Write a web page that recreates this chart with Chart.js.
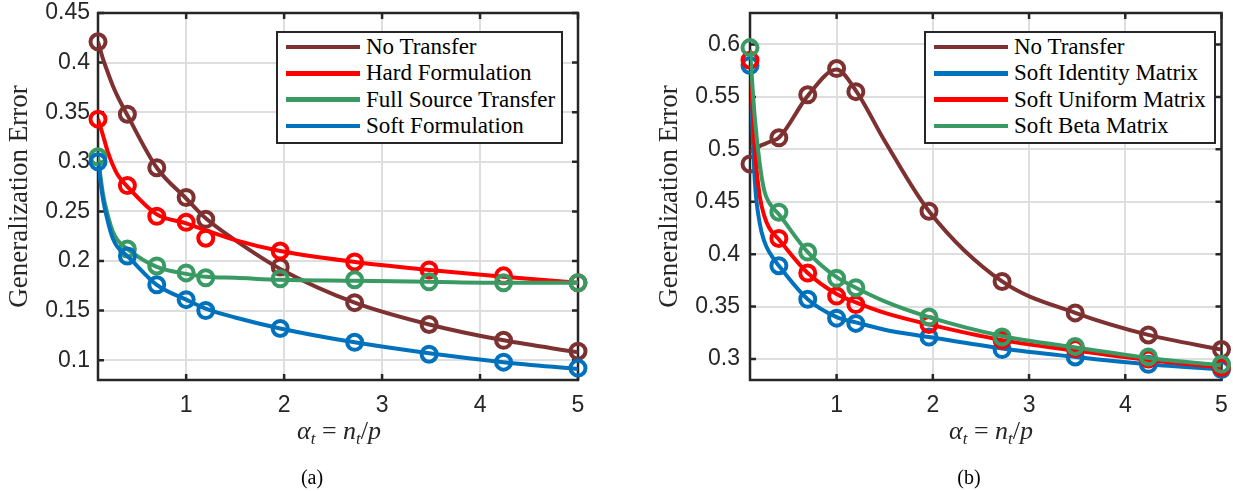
<!DOCTYPE html>
<html>
<head>
<meta charset="utf-8">
<script src="https://cdn.jsdelivr.net/npm/chart.js@4"></script>
<style>
  html, body { margin:0; padding:0; background:#fff; }
  #wrap { position:relative; width:1233px; height:491px; overflow:hidden; }
  canvas { position:absolute; top:0; }
  .xt { position:absolute; font-family:"Liberation Serif", "Times New Roman", serif; font-size:26px; color:#262626; transform:translateX(-50%); white-space:nowrap; }
  .xt i { font-style:italic; }
  .xt sub { font-size:17px; vertical-align:-5px; line-height:0; }
  .cap { position:absolute; font-family:"Liberation Serif", "Times New Roman", serif; font-size:20px; color:#000; transform:translateX(-50%); }
  .legend { position:absolute; border:2px solid #262626; background:#fff; box-sizing:border-box; padding:1px 0 0 8px; }
  .legend-item { height:26.3px; display:flex; align-items:center; font-family:"Liberation Serif", "Times New Roman", serif; font-size:23px; color:#000; white-space:nowrap; }
  .legend-line { display:inline-block; width:74px; height:4.5px; margin-right:6px; }
</style>
</head>
<body>
<div id="wrap">
  <canvas id="chart-a" width="620" height="491" style="left:0"></canvas>
  <canvas id="chart-b" width="593" height="491" style="left:640px"></canvas>
  <div class="xt" style="left:339px; top:416px"><i>α<sub>t</sub></i> = <i>n<sub>t</sub></i>/<i>p</i></div>
  <div class="xt" style="left:991px; top:416px"><i>α<sub>t</sub></i> = <i>n<sub>t</sub></i>/<i>p</i></div>
  <div class="cap" style="left:312px; top:466px">(a)</div>
  <div class="cap" style="left:969px; top:466px">(b)</div>
  <div class="legend" id="legend-a" style="left:276px; top:31px; width:287px; height:113px"></div>
  <div class="legend" id="legend-b" style="left:924px; top:31px; width:292px; height:113px"></div>
</div>
<script>
// ── DATA ──
// x positions of the simulation markers and of the points
var markX = [0.1, 0.4, 0.7, 1.0, 1.2, 1.96, 2.72, 3.48, 4.24, 5.0];
var curveX = [0.1, 0.15, 0.2, 0.25, 0.3, 0.4, 0.7, 1.0, 1.2, 1.5, 1.96, 2.72, 3.48, 4.24, 5.0];

var xTicks = [1, 2, 3, 4, 5];
var yTicksA = [0.1, 0.15, 0.2, 0.25, 0.3, 0.35, 0.4, 0.45];
var yTicksB = [0.3, 0.35, 0.4, 0.45, 0.5, 0.55, 0.6];

// (a)
var labelsA = ['No Transfer', 'Hard Formulation', 'Full Source Transfer', 'Soft Formulation'];
var curveA_noTransfer = [0.421, 0.404, 0.390, 0.377, 0.366, 0.347, 0.294, 0.263, 0.243, 0.221, 0.192, 0.158, 0.136, 0.120, 0.108];
var curveA_hard       = [0.343, 0.327, 0.310, 0.297, 0.287, 0.275, 0.247, 0.238, 0.231, 0.221, 0.210, 0.199, 0.191, 0.184, 0.178];
var curveA_full       = [0.305, 0.268, 0.246, 0.230, 0.221, 0.212, 0.194, 0.187, 0.184, 0.183, 0.181, 0.180, 0.179, 0.178, 0.178];
var curveA_soft       = [0.299, 0.263, 0.240, 0.223, 0.214, 0.205, 0.176, 0.161, 0.152, 0.143, 0.132, 0.118, 0.107, 0.098, 0.091];
var markA_noTransfer = [0.421, 0.348, 0.294, 0.264, 0.242, 0.194, 0.158, 0.136, 0.120, 0.109];
var markA_hard       = [0.343, 0.276, 0.245, 0.239, 0.223, 0.210, 0.199, 0.191, 0.185, 0.178];
var markA_full       = [0.305, 0.212, 0.195, 0.188, 0.183, 0.182, 0.181, 0.179, 0.178, 0.178];
var markA_soft       = [0.300, 0.205, 0.176, 0.161, 0.150, 0.132, 0.118, 0.106, 0.098, 0.092];

// (b)
var labelsB = ['No Transfer', 'Soft Identity Matrix', 'Soft Uniform Matrix', 'Soft Beta Matrix'];
var curveB_noTransfer = [0.498, 0.500, 0.503, 0.505, 0.507, 0.511, 0.551, 0.576, 0.556, 0.508, 0.441, 0.374, 0.344, 0.323, 0.309];
var curveB_identity   = [0.580, 0.470, 0.430, 0.412, 0.402, 0.389, 0.357, 0.340, 0.335, 0.328, 0.321, 0.310, 0.302, 0.295, 0.290];
var curveB_uniform    = [0.585, 0.500, 0.456, 0.436, 0.425, 0.414, 0.382, 0.362, 0.354, 0.344, 0.333, 0.318, 0.308, 0.299, 0.292];
var curveB_beta       = [0.595, 0.530, 0.487, 0.460, 0.449, 0.438, 0.402, 0.378, 0.368, 0.355, 0.340, 0.322, 0.311, 0.301, 0.294];
var markB_noTransfer = [0.486, 0.511, 0.552, 0.577, 0.555, 0.441, 0.374, 0.344, 0.323, 0.309];
var markB_identity   = [0.580, 0.389, 0.357, 0.339, 0.334, 0.321, 0.309, 0.302, 0.295, 0.290];
var markB_uniform    = [0.585, 0.415, 0.382, 0.360, 0.352, 0.333, 0.318, 0.310, 0.300, 0.292];
var markB_beta       = [0.597, 0.440, 0.402, 0.377, 0.368, 0.340, 0.321, 0.312, 0.302, 0.295];

var BROWN = '#7E3131', RED = '#FF0000', GREEN = '#3A9A63', BLUE = '#0072BD';
var colorsA = [BROWN, RED, GREEN, BLUE];
var colorsB = [BROWN, BLUE, RED, GREEN];

var TXT = '#262626';
var SANS = '"Liberation Sans", Arial, Helvetica, sans-serif';
var SERIF = '"Liberation Serif", "Times New Roman", serif';

function pairs(xs, ys) { return xs.map(function(x, i){ return { x: x, y: ys[i] }; }); }

// one curve + one marker dataset per series; later series drawn on top
function buildDatasets(labels, colors, curves, marks) {
  var out = [], n = labels.length;
  labels.forEach(function(l, k) {
    out.push({ label: l, data: pairs(curveX, curves[k]), borderColor: colors[k], borderWidth: 4,
      pointRadius: 0, cubicInterpolationMode: 'monotone', fill: false, order: 2*(n-k)+2 });
    out.push({ label: l + ' (sim)', data: pairs(markX, marks[k]), showLine: false, borderColor: colors[k],
      pointBorderColor: colors[k], pointBackgroundColor: 'rgba(0,0,0,0)', pointRadius: 7.5, pointBorderWidth: 4,
      clip: false, order: 2*(n-k)+1 });
  });
  return out;
}

// MATLAB-style box with inward ticks on all four sides
var framePlugin = {
  id: 'frame',
  beforeDatasetsDraw: function(chart) {
    var a = chart.chartArea, ctx = chart.ctx, xs = chart.scales.x, ys = chart.scales.y, L = 6;
    ctx.save();
    ctx.strokeStyle = TXT; ctx.lineWidth = 2.5;
    ctx.beginPath();
    xs.ticks.forEach(function(t) {
      var px = xs.getPixelForValue(t.value);
      ctx.moveTo(px, a.bottom); ctx.lineTo(px, a.bottom - L);
      ctx.moveTo(px, a.top); ctx.lineTo(px, a.top + L);
    });
    ys.ticks.forEach(function(t) {
      var py = ys.getPixelForValue(t.value);
      ctx.moveTo(a.left, py); ctx.lineTo(a.left + L, py);
      ctx.moveTo(a.right, py); ctx.lineTo(a.right - L, py);
    });
    ctx.stroke();
    ctx.strokeRect(a.left, a.top, a.right - a.left, a.bottom - a.top);
    ctx.restore();
  }
};

function makeChart(id, datasets, opt) {
  return new Chart(document.getElementById(id).getContext('2d'), {
    type: 'line',
    data: { datasets: datasets },
    plugins: [framePlugin],
    options: {
      responsive: false, animation: false, devicePixelRatio: 1,
      layout: { padding: { top: 13, right: opt.padRight, left: 0, bottom: 0 } },
      plugins: { legend: { display: false }, tooltip: { enabled: false } },
      scales: {
        x: {
          type: 'linear', min: 0.1, max: 5,
          afterBuildTicks: function(s) { s.ticks = xTicks.map(function(v){ return { value: v }; }); },
          afterFit: function(s) { s.height = 111; s.paddingLeft = 0; s.paddingRight = 0; },
          grid: { color: '#DEDEDE', lineWidth: 2, drawTicks: false },
          border: { display: false },
          ticks: { color: TXT, font: { family: SANS, size: 23 }, padding: 12, maxRotation: 0 }
        },
        y: {
          type: 'linear', min: opt.yMin, max: opt.yMax,
          afterBuildTicks: function(s) { s.ticks = opt.yTicks.map(function(v){ return { value: v }; }); },
          afterFit: function(s) { s.width = opt.yWidth; s.paddingTop = 0; s.paddingBottom = 0; },
          grid: { color: '#DEDEDE', lineWidth: 2, drawTicks: false },
          border: { display: false },
          ticks: { color: TXT, font: { family: SANS, size: 23 }, padding: opt.tickPad,
            callback: function(v) { return String(v); } },
          title: { display: true, text: 'Generalization Error', color: TXT,
            font: { family: SERIF, size: 27, weight: 'normal' }, padding: { top: opt.titlePad, bottom: 0 } }
        }
      }
    }
  });
}

function renderLegend(elId, labels, colors) {
  var el = document.getElementById(elId);
  el.innerHTML = labels.map(function(l, i) {
    return '<div class="legend-item"><span class="legend-line" style="background:' + colors[i] + '"></span>' + l + '</div>';
  }).join('');
}

makeChart('chart-a',
  buildDatasets(labelsA, colorsA,
    [curveA_noTransfer, curveA_hard, curveA_full, curveA_soft],
    [markA_noTransfer, markA_hard, markA_full, markA_soft]),
  { yMin: 0.08, yMax: 0.45, yTicks: yTicksA, yWidth: 98, padRight: 42, tickPad: 8, titlePad: 4 });

makeChart('chart-b',
  buildDatasets(labelsB, colorsB,
    [curveB_noTransfer, curveB_identity, curveB_uniform, curveB_beta],
    [markB_noTransfer, markB_identity, markB_uniform, markB_beta]),
  { yMin: 0.28, yMax: 0.63, yTicks: yTicksB, yWidth: 110, padRight: 5, tickPad: 10, titlePad: 14 });

renderLegend('legend-a', labelsA, colorsA);
renderLegend('legend-b', labelsB, colorsB);
</script>
</body>
</html>
